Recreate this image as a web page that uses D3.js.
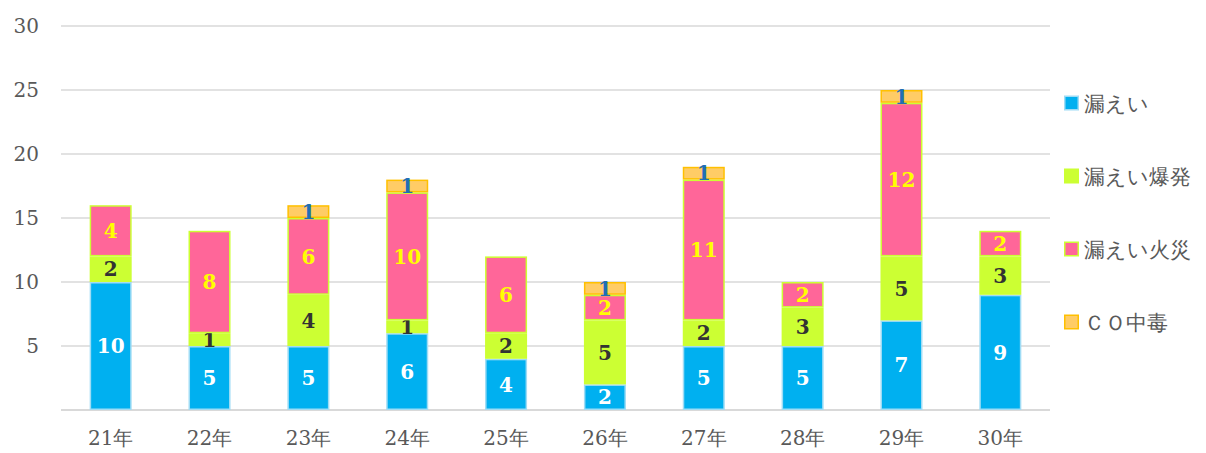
<!DOCTYPE html>
<html>
<head>
<meta charset="utf-8">
<script src="https://cdn.jsdelivr.net/npm/d3@7"></script>
<style>
  body { margin: 0; background: #fff; }
  svg text { font-family: "DejaVu Serif", "Liberation Serif", serif; }
</style>
</head>
<body>
<div id="chart"></div>
<script>
// data
let years = ['21年', '22年', '23年', '24年', '25年', '26年', '27年', '28年', '29年', '30年'];
let leak = [10, 5, 5, 6, 4, 2, 5, 5, 7, 9];
let leakBlast = [2, 1, 4, 1, 2, 5, 2, 3, 5, 3];
let leakFire = [4, 8, 6, 10, 6, 2, 11, 2, 12, 2];
let coPoison = [0, 0, 1, 1, 0, 1, 1, 0, 1, 0];
let seriesNames = ['漏えい', '漏えい爆発', '漏えい火災', 'ＣＯ中毒'];
let yTicks = [5, 10, 15, 20, 25, 30];

let svgwidth = 1206;
let svgheight = 453;

let fills = ['#00B0F0', '#CCFF33', '#FF6699', '#FFCC66'];
let strokes = ['#9FDCF5', '#CCFF33', '#CCFF33', '#FFC000'];
let labelColors = ['#ffffff', '#333333', '#FFFF00', '#1F6FB5'];

let svg = d3.select('#chart').append('svg')
    .attr('width', svgwidth)
    .attr('height', svgheight);

let x = d3.scaleBand()
    .domain(years)
    .range([61, 1050])
    .paddingInner(0.575)
    .paddingOuter(0.29);

let y = d3.scaleLinear()
    .domain([0, 30])
    .range([410, 26]);

// gridlines
svg.append('g')
    .selectAll('line')
    .data([0].concat(yTicks))
    .enter()
    .append('line')
    .attr('x1', 61)
    .attr('x2', 1050)
    .attr('y1', d => y(d))
    .attr('y2', d => y(d))
    .attr('stroke', '#d9d9d9')
    .attr('stroke-width', d => d === 0 ? 2 : 1.5);

// y axis labels
let yAxis = svg.append('g')
    .attr('transform', 'translate(39,0)')
    .call(d3.axisLeft(y).tickValues(yTicks).tickSize(0).tickPadding(0));
yAxis.select('.domain').remove();
yAxis.selectAll('text')
    .attr('fill', '#595959')
    .attr('font-size', '20px')
    .attr('font-family', '"DejaVu Serif", serif');

// x axis labels
let xAxis = svg.append('g')
    .attr('transform', 'translate(0,410)')
    .call(d3.axisBottom(x).tickSize(0).tickPadding(21));
xAxis.select('.domain').remove();
xAxis.selectAll('text')
    .attr('fill', '#595959')
    .attr('font-size', '20px')
    .attr('font-family', '"DejaVu Serif", serif');

// stack
let rows = years.map((yr, i) => ({
    year: yr, s0: leak[i], s1: leakBlast[i], s2: leakFire[i], s3: coPoison[i]
}));
let stacked = d3.stack().keys(['s0', 's1', 's2', 's3'])(rows);

let layers = svg.selectAll('.layer')
    .data(stacked)
    .enter()
    .append('g')
    .attr('class', 'layer');

layers.selectAll('rect')
    .data((d, i) => d.filter(p => p[1] > p[0]).map(p => ({p: p, k: i})))
    .enter()
    .append('rect')
    .attr('x', d => x(d.p.data.year) + 0.75)
    .attr('y', d => y(d.p[1]) + 0.75)
    .attr('width', x.bandwidth() - 1.5)
    .attr('height', d => y(d.p[0]) - y(d.p[1]) - 1.5)
    .attr('fill', d => fills[d.k])
    .attr('stroke', d => strokes[d.k])
    .attr('stroke-width', 1.5);

// data labels
layers.selectAll('text')
    .data((d, i) => d.filter(p => p[1] > p[0]).map(p => ({p: p, k: i})))
    .enter()
    .append('text')
    .attr('x', d => x(d.p.data.year) + x.bandwidth() / 2)
    .attr('y', d => (y(d.p[0]) + y(d.p[1])) / 2)
    .attr('dy', '0.36em')
    .attr('text-anchor', 'middle')
    .attr('font-size', '20px')
    .attr('font-weight', 'bold')
    .attr('fill', d => labelColors[d.k])
    .text(d => d.p[1] - d.p[0]);

// legend
let legend = svg.append('g')
    .selectAll('g')
    .data(seriesNames)
    .enter()
    .append('g')
    .attr('transform', (d, i) => `translate(1064, ${103 + i * 73})`);

legend.append('rect')
    .attr('x', 0.75)
    .attr('y', -6.75)
    .attr('width', 13.5)
    .attr('height', 13.5)
    .attr('fill', (d, i) => fills[i])
    .attr('stroke', (d, i) => strokes[i])
    .attr('stroke-width', 1.5);

legend.append('text')
    .attr('x', 20)
    .attr('y', 0)
    .attr('dy', '0.36em')
    .attr('font-size', '21px')
    .attr('fill', '#595959')
    .attr('font-family', '"Noto Sans CJK JP", serif')
    .text(d => d);
</script>
</body>
</html>
